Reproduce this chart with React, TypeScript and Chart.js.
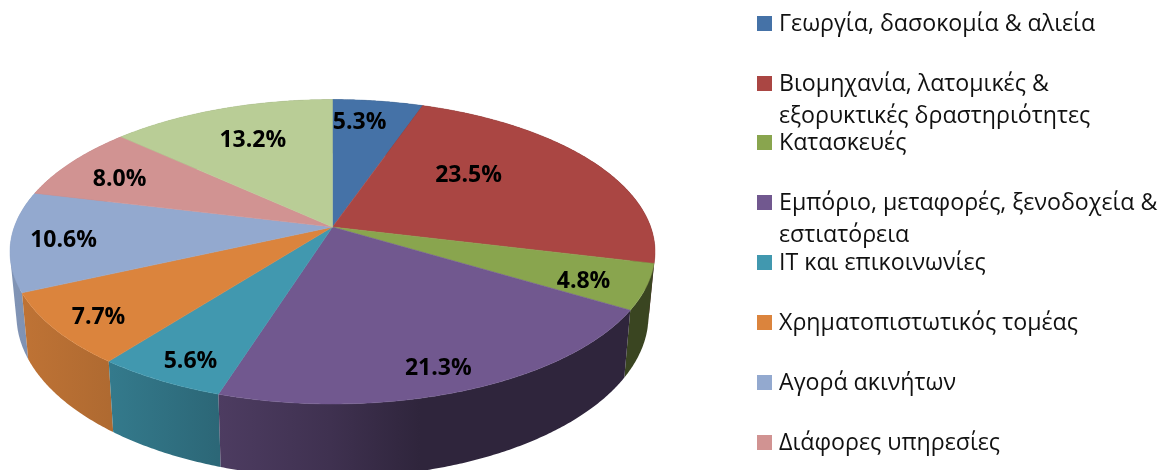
import { useEffect, useRef } from "react";
import { Chart, registerables } from "chart.js";

Chart.register(...registerables);

// ---- data ----
const categories: string[][] = [
  ["Γεωργία, δασοκομία & αλιεία"],
  ["Βιομηχανία, λατομικές &", "εξορυκτικές δραστηριότητες"],
  ["Κατασκευές"],
  ["Εμπόριο, μεταφορές, ξενοδοχεία &", "εστιατόρεια"],
  ["ΙΤ και επικοινωνίες"],
  ["Χρηματοπιστωτικός τομέας"],
  ["Αγορά ακινήτων"],
  ["Διάφορες υπηρεσίες"],
  [""], // its legend row is cut off below the picture in the reference
];
const shares = [5.3, 23.5, 4.8, 21.3, 5.6, 7.7, 10.6, 8.0, 13.2];
const sliceColors = ["#4572A7", "#AA4643", "#89A54E", "#71588F", "#4198AF", "#DB843D", "#93A9CF", "#D19392", "#B9CD96"];

// ---- styles / layout ----
const labelRadius = [0.824, 0.597, 0.817, 0.864, 0.87, 0.862, 0.838, 0.793, 0.714];
const labelTurn = [-2.8, -11.8, 1.7, 1.2, -1.1, -0.6, 0, -1.3, 0.9];
const legendRowY = [23.5, 83.5, 142.5, 202.5, 262.5, 322.5, 382.5, 442.5, 502.5];
const wallShade: [number, number][] = [[0, 0.88], [20, 0.87], [110, 0.8], [218, 0.68], [330, 0.56], [420, 0.42], [660, 0.42]];

const HUB_X = 332.5, HUB_Y = 227;
const TILT = 0.1626, SCALE_X = 318.2, SCALE_Y = 148.2;
const FONT = '"Open Sans", "Noto Sans", sans-serif';

const topPoint = (theta: number, rho = 1): [number, number] => {
  const u = Math.sin(theta) * rho, v = -Math.cos(theta) * rho;
  const w = 1 - TILT * v;
  return [HUB_X + (SCALE_X * u) / w, HUB_Y + (SCALE_Y * v) / w];
};
const bottomPoint = (theta: number): [number, number] => {
  const [x, y] = topPoint(theta);
  return [HUB_X + 0.98 * (x - HUB_X), HUB_Y + 1.065 * (y - HUB_Y) + 62];
};
const rgb = (hex: string) => [1, 3, 5].map((i) => parseInt(hex.slice(i, i + 2), 16));

const pie3d = {
  id: "pie3d",
  beforeDatasetsDraw(chart: any) {
    const ctx: CanvasRenderingContext2D = chart.ctx;
    const arcs = chart.getDatasetMeta(0).data.map((el: any, i: number) => ({
      i,
      a: el.startAngle + Math.PI / 2,
      b: el.endAngle + Math.PI / 2,
    }));
    const STEP = Math.PI / 360;
    const sweep = (a: number, b: number, f: (t: number) => [number, number]) => {
      const out: [number, number][] = [];
      const n = Math.max(2, Math.ceil((b - a) / STEP));
      for (let k = 0; k <= n; k++) out.push(f(a + ((b - a) * k) / n));
      return out;
    };

    // side walls, back to front: one path of same-handed quads, so folds stay filled without seams
    const byDepth = [...arcs].sort(
      (p: any, q: any) => -Math.cos((p.a + p.b) / 2) - -Math.cos((q.a + q.b) / 2)
    );
    for (const { i, a, b } of byDepth) {
      const c = rgb(sliceColors[i]);
      const g = ctx.createLinearGradient(0, 0, 660, 0);
      for (const [x, s] of wallShade) {
        g.addColorStop(x / 660, `rgb(${c[0] * s},${c[1] * s},${c[2] * s})`);
      }
      const upper = sweep(a, b, (t) => topPoint(t));
      const lower = sweep(a, b, bottomPoint);
      ctx.beginPath();
      for (let k = 0; k + 1 < upper.length; k++) {
        let quad = [upper[k], upper[k + 1], lower[k + 1], lower[k]];
        let area = 0;
        quad.forEach(([x, y], n) => {
          const [x2, y2] = quad[(n + 1) % 4];
          area += x * y2 - x2 * y;
        });
        if (area < 0) quad = quad.reverse();
        quad.forEach(([x, y], n) => (n ? ctx.lineTo(x, y) : ctx.moveTo(x, y)));
        ctx.closePath();
      }
      ctx.fillStyle = g;
      ctx.fill("nonzero");
    }

    // top faces
    for (const { i, a, b } of arcs) {
      ctx.beginPath();
      ctx.moveTo(HUB_X, HUB_Y);
      sweep(a, b, (t) => topPoint(t)).forEach(([x, y]) => ctx.lineTo(x, y));
      ctx.closePath();
      ctx.fillStyle = sliceColors[i];
      ctx.strokeStyle = sliceColors[i];
      ctx.lineWidth = 0.5;
      ctx.fill();
      ctx.stroke();
    }

    // value labels
    ctx.fillStyle = "#000";
    ctx.font = `bold 23px ${FONT}`;
    ctx.textAlign = "center";
    ctx.textBaseline = "middle";
    for (const { i, a, b } of arcs) {
      const [x, y] = topPoint((a + b) / 2 + (labelTurn[i] * Math.PI) / 180, labelRadius[i]);
      ctx.fillText(`${shares[i].toFixed(1)}%`, x, y + 2);
    }

    // legend
    ctx.font = `23.2px ${FONT}`;
    ctx.textAlign = "left";
    categories.forEach((lines, i) => {
      const y = legendRowY[i];
      ctx.fillStyle = sliceColors[i];
      ctx.fillRect(757, y - 7.5, 15, 15);
      ctx.fillStyle = "#111";
      lines.forEach((line, k) => ctx.fillText(line, 779, y + 1 + k * 32));
    });
    return false;
  },
};

export default function App() {
  const ref = useRef<HTMLCanvasElement>(null);
  useEffect(() => {
    document.body.style.margin = "0";
    const chart = new Chart(ref.current!, {
      type: "pie",
      data: {
        labels: categories.map((c) => c.join(" ")),
        datasets: [{ data: shares, backgroundColor: sliceColors, borderWidth: 0 }],
      },
      options: {
        responsive: false,
        animation: false,
        plugins: { legend: { display: false }, tooltip: { enabled: false } },
      },
      plugins: [pie3d],
    } as any);
    return () => chart.destroy();
  }, []);
  return <canvas ref={ref} width={1163} height={470} style={{ display: "block" }} />;
}
